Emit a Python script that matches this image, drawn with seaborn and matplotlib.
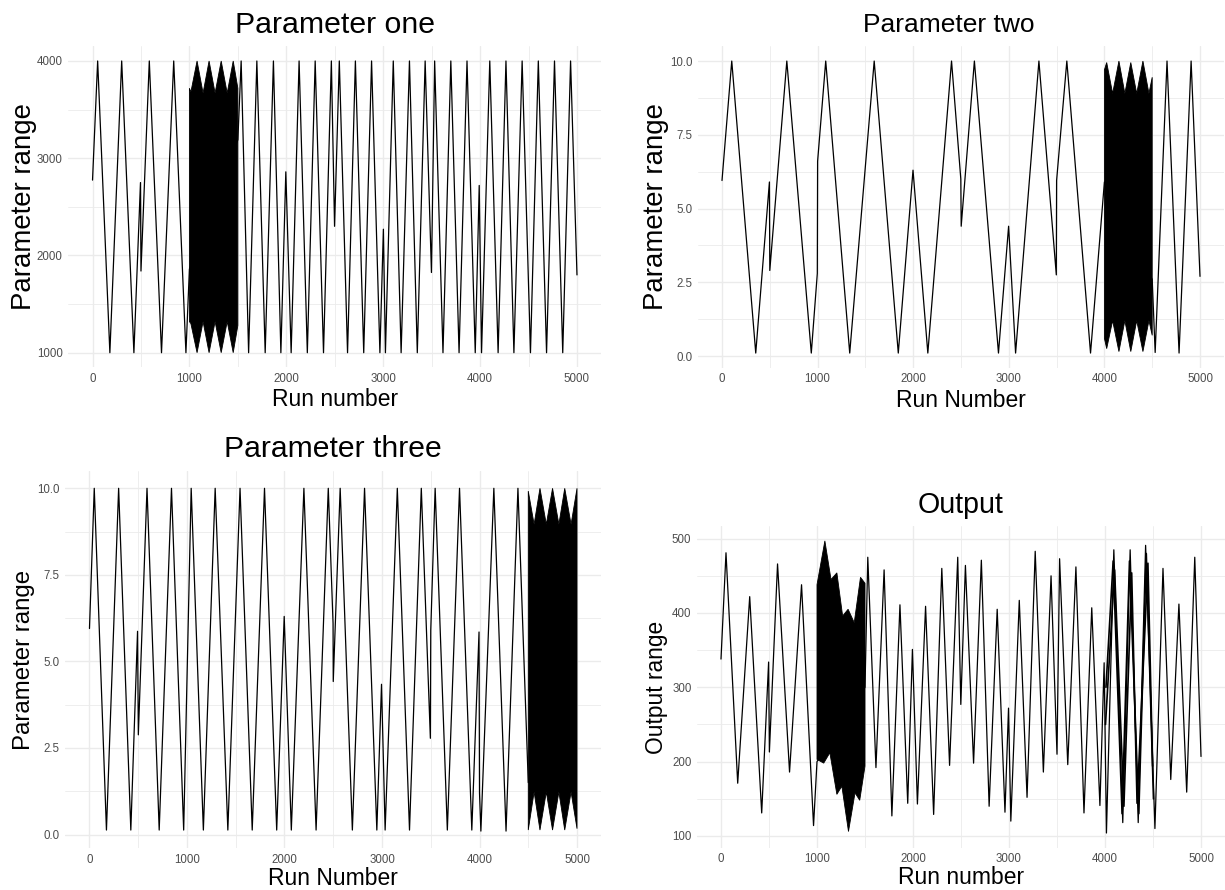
import numpy as np
import matplotlib
matplotlib.use("Agg")
import matplotlib.pyplot as plt
import seaborn as sns

# ---------------- data ----------------
# Parameter one
p1_run = [0, 53, 179, 301, 427, 495, 500, 586, 712, 838, 964, 1000, 1500, 1534, 1611, 1696,
          1782, 1867, 1944, 1995, 2050, 2132, 2217, 2298, 2384, 2465, 2498, 2547, 2632, 2713,
          2799, 2880, 2966, 3002, 3023, 3104, 3185, 3271, 3352, 3433, 3498, 3531, 3617, 3698,
          3783, 3865, 3950, 3991, 4015, 4100, 4186, 4267, 4349, 4434, 4520, 4601, 4686, 4768,
          4853, 4934, 5000]
p1_val = [2775, 4000, 1000, 4000, 1000, 2750, 1840, 4000, 1000, 4000, 1000, 1860, 3190, 4000,
          1000, 4000, 1000, 4000, 1000, 2860, 1000, 4000, 1000, 4000, 1000, 4000, 2300, 4000,
          1000, 4000, 1000, 4000, 1000, 2270, 1000, 4000, 1000, 4000, 1000, 4000, 1825, 4000,
          1000, 4000, 1000, 4000, 1000, 2720, 1000, 4000, 1000, 4000, 1000, 4000, 1000, 4000,
          1000, 4000, 1000, 4000, 1800]
p1_block_run = [1000, 1015, 1079, 1141, 1203, 1265, 1328, 1390, 1452, 1500]
p1_block_hi = [3720, 3680, 4000, 3670, 4000, 3670, 4000, 3670, 4000, 3720]
p1_block_lo = [1320, 1300, 1000, 1320, 1000, 1320, 1000, 1320, 1000, 1280]

# Parameter two
p2_run = [0, 102, 353, 496, 500, 678, 934, 997, 1000, 1085, 1336, 1592, 1844, 1998, 2153,
          2401, 2498, 2502, 2640, 2892, 2998, 3071, 3315, 3497, 3500, 3607, 3855, 4000, 4500,
          4531, 4655, 4781, 4907, 5000]
p2_val = [5.95, 10, 0.1, 5.9, 2.9, 10, 0.1, 2.8, 6.6, 10, 0.1, 10, 0.1, 6.3, 0.1, 10, 6.0,
          4.4, 10, 0.1, 4.4, 0.1, 10, 2.75, 5.95, 10, 0.1, 5.9, 2.6, 0.12, 10, 0.1, 10, 2.7]
p2_block_run = [4000, 4024, 4086, 4152, 4214, 4276, 4338, 4403, 4466, 4500]
p2_block_hi = [9.7, 9.95, 8.9, 10.0, 8.9, 9.95, 8.9, 10.0, 8.9, 9.45]
p2_block_lo = [0.6, 0.25, 1.2, 0.15, 1.2, 0.15, 1.2, 0.15, 1.2, 0.7]

# Parameter three
p3_run = [0, 49, 174, 299, 424, 493, 501, 590, 715, 841, 966, 1043, 1168, 1289, 1419, 1544,
          1669, 1795, 1920, 1997, 2070, 2199, 2324, 2449, 2498, 2500, 2571, 2696, 2821, 2947,
          2995, 3032, 3157, 3282, 3403, 3496, 3500, 3545, 3670, 3795, 3921, 3995, 4000, 4014,
          4147, 4272, 4394, 4500]
p3_val = [5.95, 10, 0.13, 10, 0.13, 5.87, 2.88, 10, 0.13, 10, 0.13, 10, 0.13, 10, 0.13, 10,
          0.13, 10, 0.13, 6.3, 0.13, 10, 0.13, 10, 6.1, 4.42, 10, 0.13, 10, 0.13, 4.34, 0.13,
          10, 0.13, 10, 2.78, 5.9, 10, 0.13, 10, 0.13, 5.85, 1.2, 0.1, 10, 0.1, 10, 1.5]
p3_block_run = [4500, 4560, 4620, 4685, 4749, 4814, 4874, 4939, 5000]
p3_block_hi = [9.92, 8.96, 10, 8.96, 10, 8.96, 10, 8.96, 10]
p3_block_lo = [0.13, 1.23, 0.13, 1.23, 0.13, 1.23, 0.13, 1.23, 0.17]

# Output
out_run = [0, 52, 174, 299, 424, 496, 504, 589, 714, 839, 964, 1000, 1500, 1529, 1614, 1699,
           1780, 1864, 1945, 1994, 2046, 2131, 2215, 2300, 2381, 2466, 2498, 2546, 2631, 2712,
           2793, 2877, 2958, 2995, 3019, 3107, 3188, 3273, 3358, 3438, 3500, 3527, 3612, 3697,
           3781, 3862, 3947, 3991, 4015, 4092, 4185, 4262, 4346, 4423, 4520, 4604, 4685, 4770,
           4851, 4935, 5000]
out_val = [338, 481, 171, 422, 131, 334, 213, 466, 186, 438, 114, 200, 300, 475, 192, 458,
           127, 411, 144, 351, 143, 409, 129, 460, 195, 475, 277, 464, 198, 471, 140, 405, 132,
           272, 120, 417, 152, 483, 186, 450, 210, 473, 196, 462, 131, 407, 141, 333, 104, 485,
           118, 485, 118, 491, 110, 460, 176, 412, 159, 475, 207]
# extra overlapping traces inside the busy 4000-4500 stretch of the output
out_run2 = [4005, 4100, 4197, 4278, 4334, 4447, 4496]
out_val2 = [250, 458, 140, 454, 144, 467, 194]
out_run3 = [4010, 4085, 4178, 4255, 4352, 4430, 4505]
out_val3 = [300, 470, 130, 470, 130, 480, 150]
out_block_hi_run = [1000, 1082, 1146, 1207, 1267, 1324, 1388, 1453, 1500]
out_block_hi = [438, 497, 445, 454, 396, 405, 387, 448, 440]
out_block_lo_run = [1000, 1070, 1134, 1207, 1259, 1328, 1396, 1445, 1500]
out_block_lo = [203, 198, 212, 156, 167, 106, 158, 148, 194]

x_ticks = [0, 1000, 2000, 3000, 4000, 5000]
x_minor = [500, 1500, 2500, 3500, 4500]

# ---------------- figure ----------------
sns.set_theme(style="white")
plt.rcParams['font.family'] = ['Liberation Sans', 'DejaVu Sans']

W, H = 1225, 890
fig = plt.figure(figsize=(W / 100, H / 100), dpi=100)


def add_ax(l, t, r, b):
    return fig.add_axes([l / W, 1 - b / H, (r - l) / W, (b - t) / H])


def style(ax, ylim, yticks, yminor, ylabels, title, tsize, tpad, tx, xlabel, ylabel, ysize,
          ylab_x, xlab_y):
    ax.set_xlim(-250, 5250)
    ax.set_ylim(*ylim)
    ax.set_xticks(x_ticks)
    ax.set_xticklabels([str(v) for v in x_ticks])
    ax.set_xticks(x_minor, minor=True)
    ax.set_yticks(yticks)
    ax.set_yticklabels(ylabels)
    ax.set_yticks(yminor, minor=True)
    for s in ax.spines.values():
        s.set_visible(False)
    ax.set_axisbelow(True)
    ax.grid(which='major', color='#EBEBEB', lw=1.0)
    ax.grid(which='minor', color='#EBEBEB', lw=0.6)
    ax.tick_params(which='both', length=0, labelsize=8.3, labelcolor='#4D4D4D')
    ax.tick_params(axis='x', pad=4)
    ax.tick_params(axis='y', pad=4)
    ax.set_title(title, fontsize=tsize, pad=tpad, color='black', x=tx)
    ax.set_xlabel(xlabel, fontsize=16.5, color='black')
    ax.set_ylabel(ylabel, fontsize=ysize, color='black')
    ax.yaxis.set_label_coords(ylab_x, 0.5)
    ax.xaxis.set_label_coords(0.5, xlab_y)


def draw(ax, run, val, lw=0.9):
    sns.lineplot(x=run, y=val, ax=ax, color='black', lw=lw, sort=False, estimator=None)


# Panel 1
ax1 = add_ax(68.3, 46.4, 601.2, 367.3)
draw(ax1, p1_run, p1_val)
ax1.fill(p1_block_run + p1_block_run[::-1], p1_block_hi + p1_block_lo[::-1],
         color='black', lw=0.6)
style(ax1, (850, 4150), [1000, 2000, 3000, 4000], [1500, 2500, 3500],
      ['1000', '2000', '3000', '4000'], 'Parameter one', 21.8, 10, 0.5, 'Run number',
      'Parameter range', 19.9, -0.058, -0.066)

# Panel 2
ax2 = add_ax(698.1, 46.3, 1223.9, 367.8)
draw(ax2, p2_run, p2_val)
ax2.fill(p2_block_run + p2_block_run[::-1], p2_block_hi + p2_block_lo[::-1],
         color='black', lw=0.6)
style(ax2, (-0.4, 10.5), [0, 2.5, 5, 7.5, 10], [1.25, 3.75, 6.25, 8.75],
      ['0.0', '2.5', '5.0', '7.5', '10.0'], 'Parameter two', 19, 10, 0.477, 'Run Number',
      'Parameter range', 19.9, -0.0555, -0.066)

# Panel 3
ax3 = add_ax(65.1, 471, 601.4, 848.4)
draw(ax3, p3_run, p3_val)
ax3.fill(p3_block_run + p3_block_run[::-1], p3_block_hi + p3_block_lo[::-1],
         color='black', lw=0.6)
style(ax3, (-0.4, 10.5), [0, 2.5, 5, 7.5, 10], [1.25, 3.75, 6.25, 8.75],
      ['0.0', '2.5', '5.0', '7.5', '10.0'], 'Parameter three', 21.7, 10, 0.5, 'Run Number',
      'Parameter range', 17.3, -0.0555, -0.050)

# Panel 4
ax4 = add_ax(697, 526.4, 1225, 847.5)
draw(ax4, out_run, out_val)
draw(ax4, out_run2, out_val2, lw=1.2)
draw(ax4, out_run3, out_val3, lw=1.2)
ax4.fill(out_block_hi_run + out_block_lo_run[::-1], out_block_hi + out_block_lo[::-1],
         color='black', lw=0.6)
style(ax4, (84.5, 516.5), [100, 200, 300, 400, 500], [150, 250, 350, 450],
      ['100', '200', '300', '400', '500'], 'Output', 20.6, 10, 0.5, 'Run number',
      'Output range', 16.4, -0.0555, -0.059)

fig.savefig('out.png', dpi=100, facecolor='white')
